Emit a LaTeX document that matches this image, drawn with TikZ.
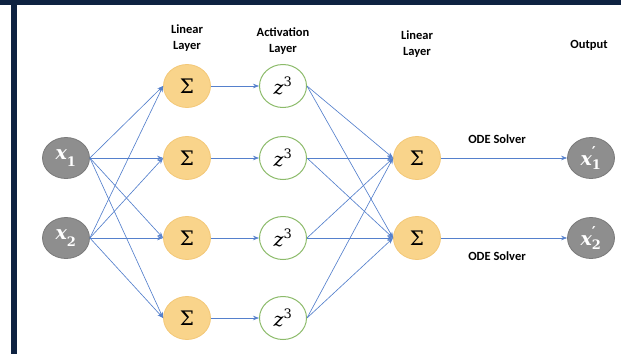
\documentclass[tikz,border=0pt]{standalone}
\usepackage{fontspec}
\setmainfont{Carlito}
\newfontfamily\symfam{DejaVu Serif}
\usetikzlibrary{shapes.geometric,arrows.meta}
\definecolor{navy}{HTML}{0E2241}
\definecolor{wire}{HTML}{5580CC}
\definecolor{sumfill}{HTML}{F9D48B}
\definecolor{sumline}{HTML}{F3C878}
\definecolor{actline}{HTML}{8CBB6A}
\definecolor{iofill}{HTML}{8E8E8E}
\definecolor{ioline}{HTML}{7A7A7A}
% symbol pieces set in DejaVu Serif
\newcommand\bigsym[1]{\hbox{\symfam\fontsize{19}{19}\selectfont #1}}
\newcommand\smallsym[1]{\hbox{\symfam\fontsize{13}{13}\selectfont #1}}
\newcommand\varx{\bigsym{\bfseries\itshape x}}
\newcommand\primesym{\hbox{\symfam\bfseries\fontsize{15}{15}\selectfont ′}}
\tikzset{
  iobox/.style={ellipse, draw=ioline, fill=iofill, line width=0.8pt,
    minimum width=47pt, minimum height=41pt, inner sep=0pt, text=white},
  sumbox/.style={ellipse, draw=sumline, fill=sumfill, line width=0.8pt,
    minimum width=47pt, minimum height=43pt, inner sep=0pt,
    font=\symfam\fontsize{20}{20}\selectfont},
  actbox/.style={ellipse, draw=actline, fill=white, line width=1pt,
    minimum width=47pt, minimum height=43pt, inner sep=0pt},
  wirearrow/.style={draw=wire, line width=0.65pt,
    -{Stealth[length=6pt,width=4.5pt]}},
  caption/.style={font=\bfseries\fontsize{12.5}{16}\selectfont,
    align=center, inner sep=0pt}
}
\begin{document}
\begin{tikzpicture}[x=1pt,y=-1pt]
  \useasboundingbox (0,0) rectangle (621,354);
  % frame bars
  \fill[navy] (0,0) rectangle (621,5);
  \fill[navy] (11,0) rectangle (17,354);

  % column captions
  \node[caption] (capA) at (187,38) {Linear\\Layer};
  \node[caption] (capB) at (283,41) {Activation\\Layer};
  \node[caption] (capC) at (417,44) {Linear\\Layer};
  \node[caption] (capD) at (589,45) {Output};

  % inputs
  \node[iobox] (x1) at (66,158) {$\varx_{\smallsym{\bfseries 1}}$};
  \node[iobox] (x2) at (66,238) {$\varx_{\smallsym{\bfseries 2}}$};

  % first linear layer and activation layer
  \foreach \i/\y in {1/86,2/158,3/238,4/318}{
    \node[sumbox] (s\i) at (187,\y) {Σ};
    \node[actbox] (z\i) at (283,\y) {$\bigsym{\itshape z}^{\smallsym{3}}$};
  }

  % second linear layer
  \node[sumbox] (t1) at (417,158) {Σ};
  \node[sumbox] (t2) at (417,238) {Σ};

  % outputs
  \node[iobox] (o1) at (591,158) {$\varx^{\primesym}_{\smallsym{\bfseries 1}}$};
  \node[iobox] (o2) at (591,238) {$\varx^{\primesym}_{\smallsym{\bfseries 2}}$};

  % inputs to first linear layer
  \foreach \a in {1,2}{
    \foreach \b in {1,2,3,4}{
      \draw[wirearrow] (x\a.east) -- (s\b.west);
    }
  }
  % linear to activation
  \foreach \i in {1,2,3,4}{
    \draw[wirearrow] (s\i.east) -- (z\i.west);
  }
  % activation to second linear layer
  \foreach \i in {1,2,3,4}{
    \draw[wirearrow] (z\i.east) -- (t1.west);
    \draw[wirearrow] (z\i.east) -- (t2.west);
  }
  % ODE solver steps
  \draw[wirearrow] (t1.east) -- (o1.west);
  \draw[wirearrow] (t2.east) -- (o2.west);
  \node[caption] (ode1) at (497,139) {ODE Solver};
  \node[caption] (ode2) at (497,256) {ODE Solver};
\end{tikzpicture}
\end{document}
